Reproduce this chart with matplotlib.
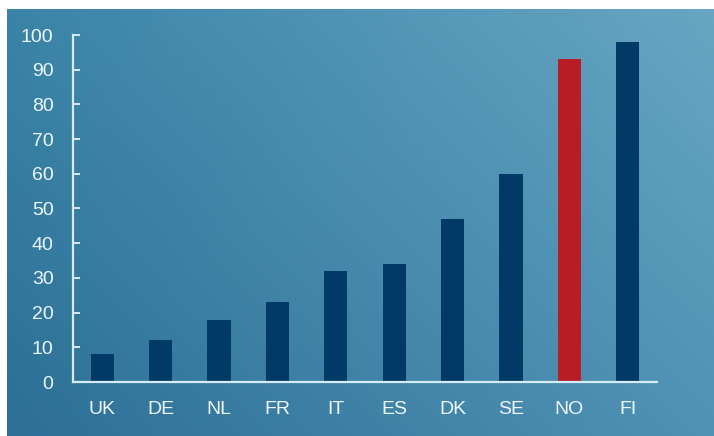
import numpy as np
import matplotlib.pyplot as plt
from matplotlib.colors import to_rgb

countries = ['UK', 'DE', 'NL', 'FR', 'IT', 'ES', 'DK', 'SE', 'NO', 'FI']
values = [8, 12, 18, 23, 32, 34, 47, 60, 93, 98]
highlight = 'NO'
yticks = [0, 10, 20, 30, 40, 50, 60, 70, 80, 90, 100]

plt.rcParams['font.family'] = ['Liberation Sans', 'DejaVu Sans']

W, H = 714, 436
fig = plt.figure(figsize=(W / 100, H / 100), dpi=100)
fig.patch.set_facecolor('white')

# gradient panel behind the chart
bg = fig.add_axes([7 / W, 0, (W - 7) / W, (H - 9) / H])
bg.set_axis_off()
tl, tr = np.array(to_rgb('#3a84a8')), np.array(to_rgb('#68a6c3'))
bl, br = np.array(to_rgb('#2d6f96')), np.array(to_rgb('#4f92b4'))
u = np.linspace(0, 1, 200)[None, :, None]
v = np.linspace(0, 1, 120)[:, None, None]
grad = (1 - v) * ((1 - u) * tl + u * tr) + v * ((1 - u) * bl + u * br)
bg.imshow(grad, aspect='auto', extent=[0, 1, 0, 1], origin='upper')

# main axes
left, right, top, bottom = 73, 657, 35, 382
ax = fig.add_axes([left / W, (H - bottom) / H, (right - left) / W, (bottom - top) / H])
ax.patch.set_alpha(0)

x = np.arange(len(countries))
colors = ['#b81c25' if c == highlight else '#013a66' for c in countries]
ax.bar(x, values, width=0.4, color=colors, zorder=2)

ax.set_xlim(-0.5, len(countries) - 0.5)
ax.set_ylim(0, 100)
ax.set_yticks(yticks)
ax.set_xticks(x)
ax.set_xticklabels(countries)

line_col = '#d6ecf7'
text_col = '#eef7fb'
for s in ['top', 'right']:
    ax.spines[s].set_visible(False)
for s in ['left', 'bottom']:
    ax.spines[s].set_color(line_col)
    ax.spines[s].set_linewidth(1.6)

ax.tick_params(axis='y', direction='in', length=5, width=1.4, color=line_col,
               labelcolor=text_col, labelsize=14, pad=14)
ax.tick_params(axis='x', length=0, labelcolor=text_col, labelsize=14, pad=14)

fig.savefig('out.png', dpi=100)
